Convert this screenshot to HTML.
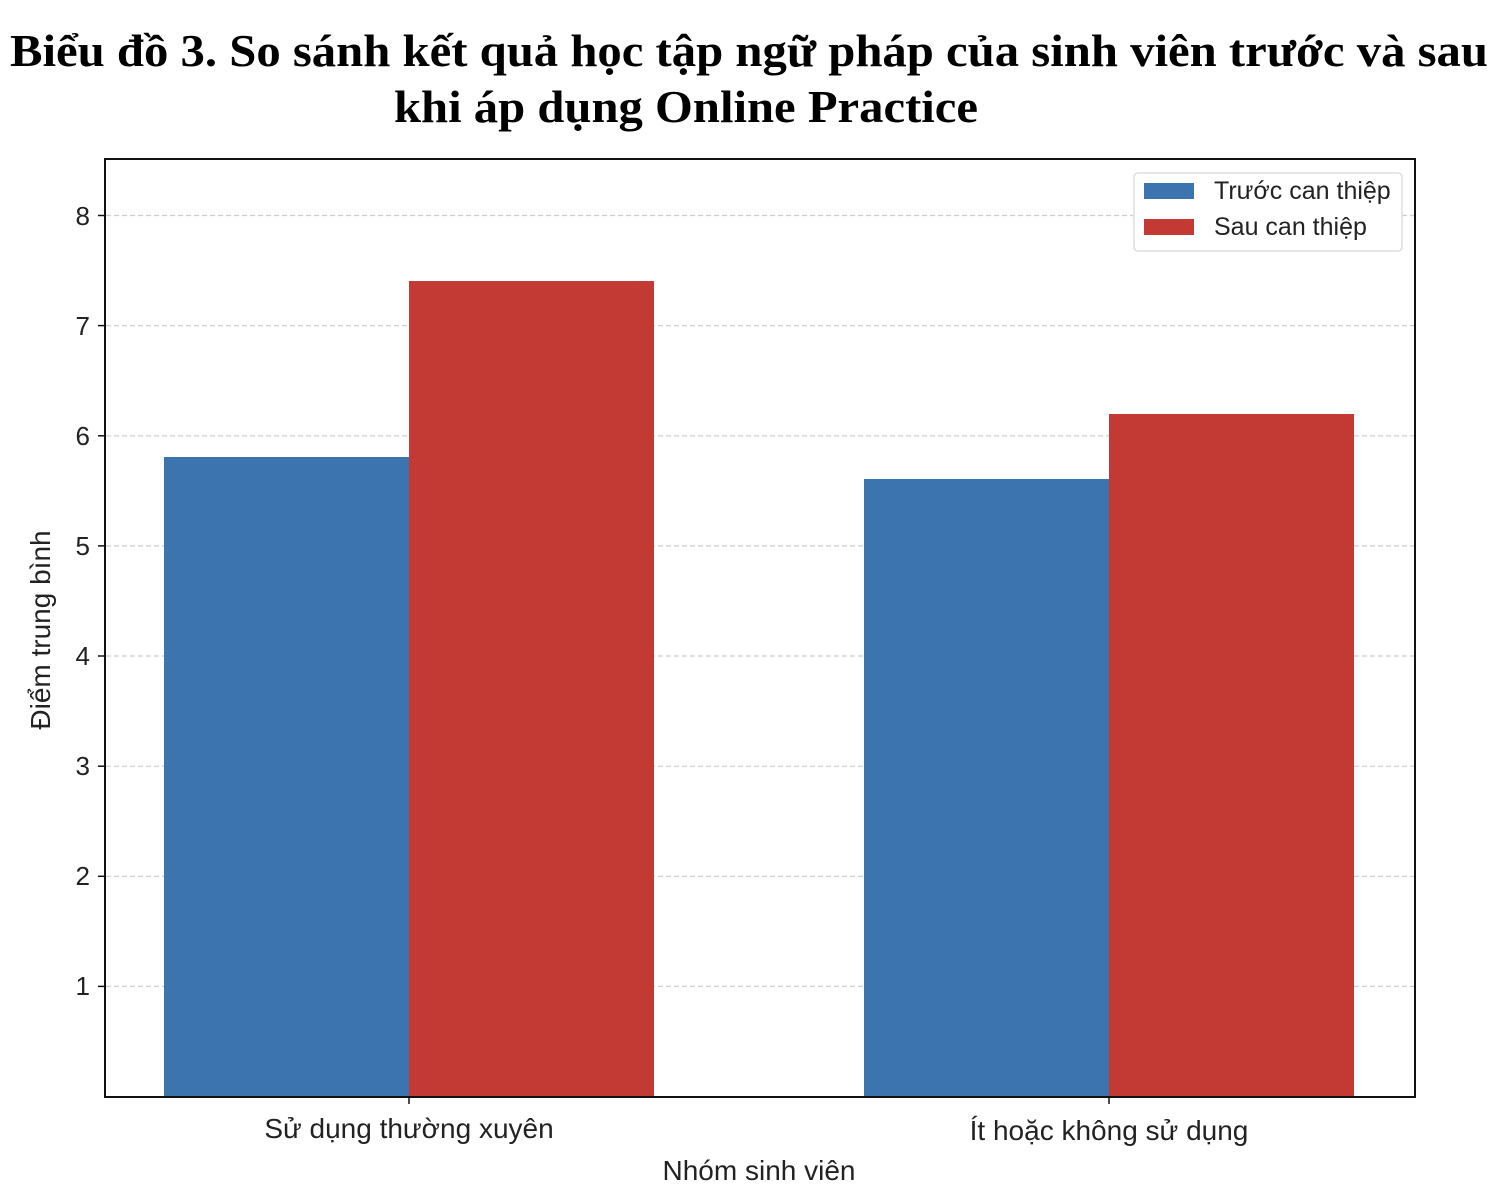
<!DOCTYPE html>
<html><head><meta charset="utf-8"><style>
html,body{margin:0;padding:0;background:#fff;}
svg{display:block;}
</style></head><body>
<svg width="1500" height="1198" xmlns="http://www.w3.org/2000/svg">
<g font-family="'Liberation Serif', serif" font-weight="bold" font-size="46" fill="#000">
<text x="10" y="66" textLength="1478" lengthAdjust="spacingAndGlyphs">Biểu đồ 3. So sánh kết quả học tập ngữ pháp của sinh viên trước và sau</text>
<text x="394" y="122" textLength="584" lengthAdjust="spacingAndGlyphs">khi áp dụng Online Practice</text>
</g>
<g stroke="#ccc" stroke-width="1.2" stroke-dasharray="5,3">
<line x1="106" x2="1414" y1="215.5" y2="215.5"/>
<line x1="106" x2="1414" y1="325.6" y2="325.6"/>
<line x1="106" x2="1414" y1="435.8" y2="435.8"/>
<line x1="106" x2="1414" y1="545.9" y2="545.9"/>
<line x1="106" x2="1414" y1="656" y2="656"/>
<line x1="106" x2="1414" y1="766.2" y2="766.2"/>
<line x1="106" x2="1414" y1="876.3" y2="876.3"/>
<line x1="106" x2="1414" y1="986.4" y2="986.4"/>
</g>
<rect x="164" y="457" width="245" height="640" fill="#3b74af"/>
<rect x="409" y="281" width="245" height="816" fill="#c33a35"/>
<rect x="864" y="479" width="245" height="618" fill="#3b74af"/>
<rect x="1109" y="414" width="245" height="683" fill="#c33a35"/>
<rect x="105" y="159" width="1310" height="938" fill="none" stroke="#111" stroke-width="2"/>
<g stroke="#111" stroke-width="1.5">
<line x1="98" x2="105" y1="215.5" y2="215.5"/><line x1="98" x2="105" y1="325.6" y2="325.6"/>
<line x1="98" x2="105" y1="435.8" y2="435.8"/><line x1="98" x2="105" y1="545.9" y2="545.9"/>
<line x1="98" x2="105" y1="656" y2="656"/><line x1="98" x2="105" y1="766.2" y2="766.2"/>
<line x1="98" x2="105" y1="876.3" y2="876.3"/><line x1="98" x2="105" y1="986.4" y2="986.4"/>
<line x1="409" x2="409" y1="1097" y2="1104"/><line x1="1109" x2="1109" y1="1097" y2="1104"/>
</g>
<g font-family="'Liberation Sans', sans-serif" font-size="26" fill="#222" text-anchor="end">
<text x="90" y="225">8</text><text x="90" y="335">7</text><text x="90" y="445">6</text>
<text x="90" y="555">5</text><text x="90" y="665">4</text><text x="90" y="775">3</text>
<text x="90" y="885">2</text><text x="90" y="995">1</text>
</g>
<g font-family="'Liberation Sans', sans-serif" font-size="28" fill="#222" text-anchor="middle">
<text x="409" y="1138">Sử dụng thường xuyên</text>
<text x="1109" y="1140">Ít hoặc không sử dụng</text>
<text x="759" y="1180">Nhóm sinh viên</text>
<text transform="translate(50,630) rotate(-90)">Điểm trung bình</text>
</g>
<rect x="1134" y="173" width="268" height="78" rx="4" fill="#fff" stroke="#ddd" stroke-width="1.5"/>
<rect x="1144" y="183" width="50" height="16" fill="#3b74af"/>
<rect x="1144" y="219" width="50" height="16" fill="#c33a35"/>
<g font-family="'Liberation Sans', sans-serif" font-size="25" fill="#222">
<text x="1214" y="199">Trước can thiệp</text>
<text x="1214" y="235">Sau can thiệp</text>
</g>
</svg>
</body></html>
